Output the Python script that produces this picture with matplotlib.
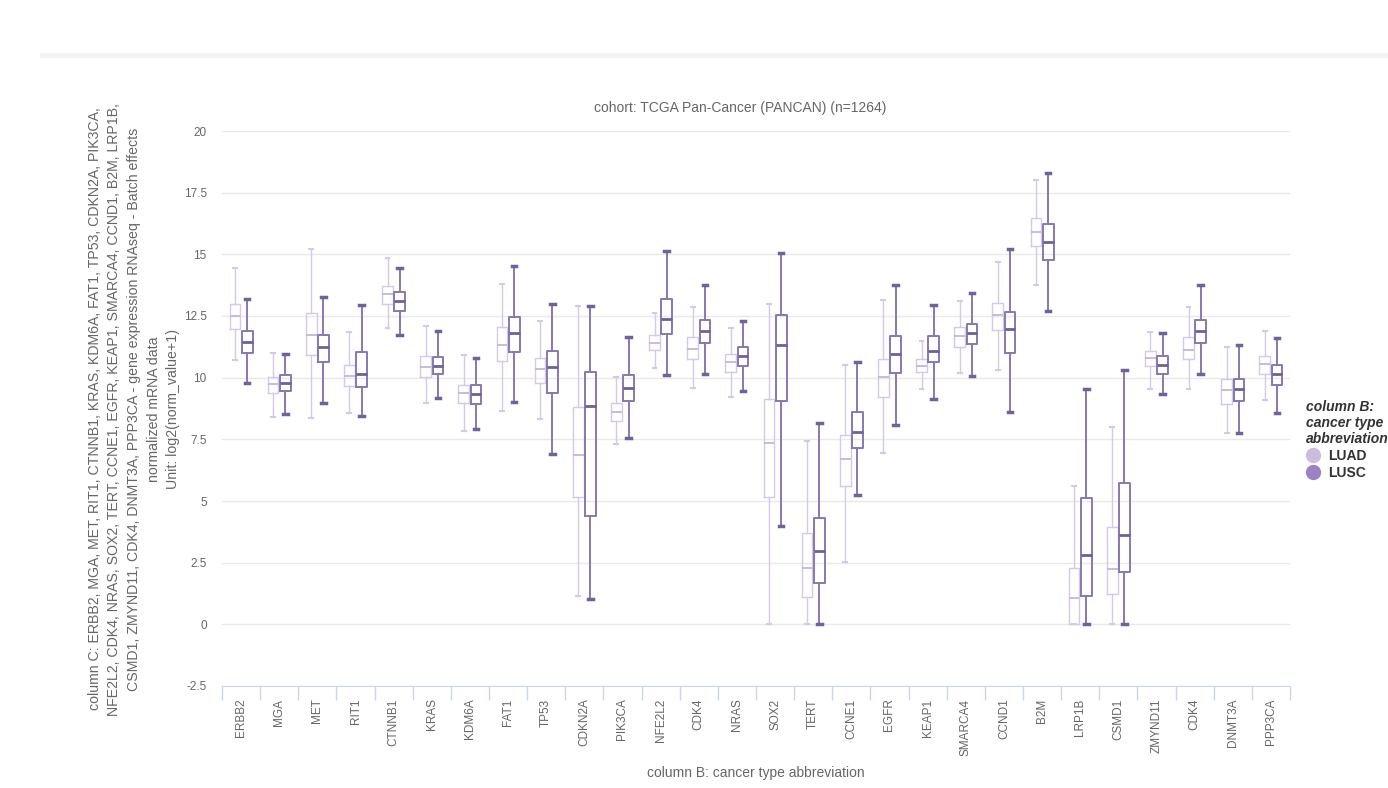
import matplotlib
matplotlib.use("Agg")
import matplotlib.pyplot as plt
from matplotlib.lines import Line2D
from matplotlib.patches import Rectangle
import numpy as np

plt.rcParams['font.family'] = ['Liberation Sans', 'DejaVu Sans']

genes = ["ERBB2", "MGA", "MET", "RIT1", "CTNNB1", "KRAS", "KDM6A", "FAT1", "TP53",
         "CDKN2A", "PIK3CA", "NFE2L2", "CDK4", "NRAS", "SOX2", "TERT", "CCNE1", "EGFR",
         "KEAP1", "SMARCA4", "CCND1", "B2M", "LRP1B", "CSMD1", "ZMYND11", "CDK4",
         "DNMT3A", "PPP3CA"]

# box statistics per gene: whisker low, q1, median, q3, whisker high
luad_low = [10.72, 8.42, 8.38, 8.58, 12.03, 8.99, 7.85, 8.65, 8.33, 1.15, 7.30, 10.38, 9.57, 9.23,
            0.00, 0.00, 2.53, 6.96, 9.56, 10.18, 10.31, 13.74, 0.00, 0.00, 9.56, 9.56, 7.74, 9.10]
luad_q1 = [11.96, 9.39, 10.91, 9.66, 12.99, 10.02, 8.96, 10.68, 9.77, 5.18, 8.24, 11.12, 10.77, 10.23,
           5.18, 1.10, 5.61, 9.20, 10.24, 11.23, 11.93, 15.34, 0.00, 1.22, 10.46, 10.76, 8.93, 10.15]
luad_med = [12.50, 9.74, 11.72, 10.07, 13.38, 10.45, 9.36, 11.34, 10.34, 6.85, 8.61, 11.42, 11.18, 10.65,
            7.34, 2.30, 6.69, 10.04, 10.47, 11.69, 12.53, 15.89, 1.06, 2.24, 10.78, 11.12, 9.50, 10.54]
luad_q3 = [13.00, 10.01, 12.64, 10.53, 13.73, 10.88, 9.70, 12.04, 10.79, 8.82, 8.96, 11.72, 11.64, 10.97,
           9.12, 3.69, 7.68, 10.76, 10.76, 12.04, 13.04, 16.46, 2.27, 3.93, 11.09, 11.64, 9.93, 10.88]
luad_high = [14.46, 10.99, 15.22, 11.86, 14.84, 12.10, 10.91, 13.80, 12.30, 12.92, 10.04, 12.61, 12.88, 12.00,
             12.97, 7.43, 10.51, 13.14, 11.50, 13.12, 14.69, 18.01, 5.62, 8.01, 11.84, 12.88, 11.26, 11.89]

lusc_low = [9.79, 8.53, 8.99, 8.46, 11.74, 9.19, 7.91, 9.03, 6.91, 1.01, 7.57, 10.09, 10.15, 9.46,
            4.00, 0.00, 5.24, 8.08, 9.15, 10.08, 8.61, 12.70, 0.00, 0.00, 9.33, 10.15, 7.74, 8.56]
lusc_q1 = [11.01, 9.47, 10.62, 9.64, 12.70, 10.15, 8.92, 11.05, 9.39, 4.41, 9.06, 11.76, 11.39, 10.47,
           9.06, 1.67, 7.16, 10.20, 10.64, 11.35, 11.01, 14.77, 1.16, 2.14, 10.15, 11.42, 9.07, 9.70]
lusc_med = [11.46, 9.80, 11.24, 10.15, 13.11, 10.47, 9.34, 11.80, 10.45, 8.85, 9.57, 12.37, 11.91, 10.89,
            11.33, 2.98, 7.81, 10.95, 11.09, 11.81, 11.99, 15.51, 2.81, 3.62, 10.51, 11.89, 9.53, 10.15]
lusc_q3 = [11.88, 10.12, 11.73, 11.05, 13.46, 10.83, 9.70, 12.45, 11.09, 10.21, 10.11, 13.18, 12.35, 11.26,
           12.53, 4.33, 8.59, 11.69, 11.69, 12.18, 12.68, 16.23, 5.14, 5.74, 10.88, 12.34, 9.96, 10.51]
lusc_high = [13.19, 10.95, 13.27, 12.93, 14.46, 11.91, 10.81, 14.53, 12.99, 12.92, 11.66, 15.12, 13.75, 12.29,
             15.07, 8.18, 10.65, 13.74, 12.93, 13.45, 15.22, 18.28, 9.56, 10.31, 11.80, 13.74, 11.33, 11.62]

yticks = [-2.5, 0, 2.5, 5, 7.5, 10, 12.5, 15, 17.5, 20]
ytick_labels = ["-2.5", "0", "2.5", "5", "7.5", "10", "12.5", "15", "17.5", "20"]

LUAD_C = "#d5cae6"
LUSC_C = "#8878b0"
GRID_C = "#e9e9e9"
AXIS_C = "#ccd6eb"
TEXT_C = "#666666"


def make_stats(low, q1, med, q3, high):
    return [dict(whislo=a, q1=b, med=c, q3=d, whishi=e, fliers=[])
            for a, b, c, d, e in zip(low, q1, med, q3, high)]


fig = plt.figure(figsize=(13.88, 7.88), dpi=100)
ax = fig.add_axes([222 / 1388, 1 - 686 / 788, (1290 - 222) / 1388, (686 - 131) / 788])

x = np.arange(len(genes))
off = 0.16
w = 0.28

ax.bxp(make_stats(luad_low, luad_q1, luad_med, luad_q3, luad_high),
       positions=x - off, widths=w, showfliers=False, capwidths=0.1,
       boxprops=dict(color=LUAD_C, linewidth=1.0),
       whiskerprops=dict(color=LUAD_C, linewidth=1.0),
       capprops=dict(color=LUAD_C, linewidth=1.5),
       medianprops=dict(color="#c4b6dc", linewidth=1.3), zorder=3)

ax.bxp(make_stats(lusc_low, lusc_q1, lusc_med, lusc_q3, lusc_high),
       positions=x + off, widths=w, showfliers=False, capwidths=0.12,
       boxprops=dict(color=LUSC_C, linewidth=1.4),
       whiskerprops=dict(color=LUSC_C, linewidth=1.4),
       capprops=dict(color="#716399", linewidth=2.5),
       medianprops=dict(color="#6f5f9c", linewidth=2.0), zorder=3)

ax.set_xlim(-0.5, len(genes) - 0.5)
ax.set_ylim(-2.5, 20)
ax.set_yticks(yticks)
ax.set_yticklabels(ytick_labels)
ax.yaxis.grid(True, color=GRID_C, linewidth=1.0)
ax.set_axisbelow(True)

ax.set_xticks(x)
ax.set_xticklabels(genes, rotation=90, va="top")
ax.set_xticks(np.arange(-0.5, len(genes)), minor=True)
ax.tick_params(axis="x", which="major", length=0, pad=9, labelsize=8.5, labelcolor=TEXT_C)
ax.tick_params(axis="x", which="minor", length=10, width=1, color=AXIS_C)
ax.tick_params(axis="y", length=0, pad=11, labelsize=8.5, labelcolor=TEXT_C)

for side in ["top", "right", "left"]:
    ax.spines[side].set_visible(False)
ax.spines["bottom"].set_color(AXIS_C)

fig.text(756 / 1388, 1 - 773 / 788, "column B: cancer type abbreviation",
         ha="center", va="center", fontsize=10, color=TEXT_C)

ylabel = ("column C: ERBB2, MGA, MET, RIT1, CTNNB1, KRAS, KDM6A, FAT1, TP53, CDKN2A, PIK3CA,\n"
          "NFE2L2, CDK4, NRAS, SOX2, TERT, CCNE1, EGFR, KEAP1, SMARCA4, CCND1, B2M, LRP1B,\n"
          "CSMD1, ZMYND11, CDK4, DNMT3A, PPP3CA - gene expression RNAseq - Batch effects\n"
          "normalized mRNA data\n"
          "Unit: log2(norm_value+1)")
fig.text(134 / 1388, 1 - 409 / 788, ylabel, rotation=90, ha="center", va="center",
         multialignment="center", fontsize=10.2, color=TEXT_C, linespacing=1.5)

fig.text(740 / 1388, 1 - 108 / 788, "cohort: TCGA Pan-Cancer (PANCAN) (n=1264)",
         ha="center", va="center", fontsize=10, color=TEXT_C)

# light separator strip across the top of the page
fig.add_artist(Rectangle((40 / 1388, 1 - 58 / 788), 1 - 40 / 1388, 5 / 788,
                         transform=fig.transFigure, color="#f3f3f3", lw=0))

handles = [Line2D([], [], marker="o", linestyle="", markersize=10,
                  markerfacecolor="#cdbce2", markeredgecolor="#cdbce2"),
           Line2D([], [], marker="o", linestyle="", markersize=10,
                  markerfacecolor="#9a82c4", markeredgecolor="#9a82c4")]
leg = fig.legend(handles, ["LUAD", "LUSC"], loc="upper left",
                 bbox_to_anchor=(1300 / 1388, 1 - 394 / 788), frameon=False,
                 title="column B:\ncancer type\nabbreviation",
                 prop=dict(weight="bold", size=10), handletextpad=0.6,
                 labelspacing=0.2, handlelength=1.0, borderaxespad=0)
leg.get_title().set_fontweight("bold")
leg.get_title().set_fontstyle("italic")
leg.get_title().set_fontsize(10)
leg.get_title().set_color("#333333")
for t in leg.get_texts():
    t.set_color("#333333")
leg._legend_box.align = "left"

fig.savefig("out.png", dpi=100)
